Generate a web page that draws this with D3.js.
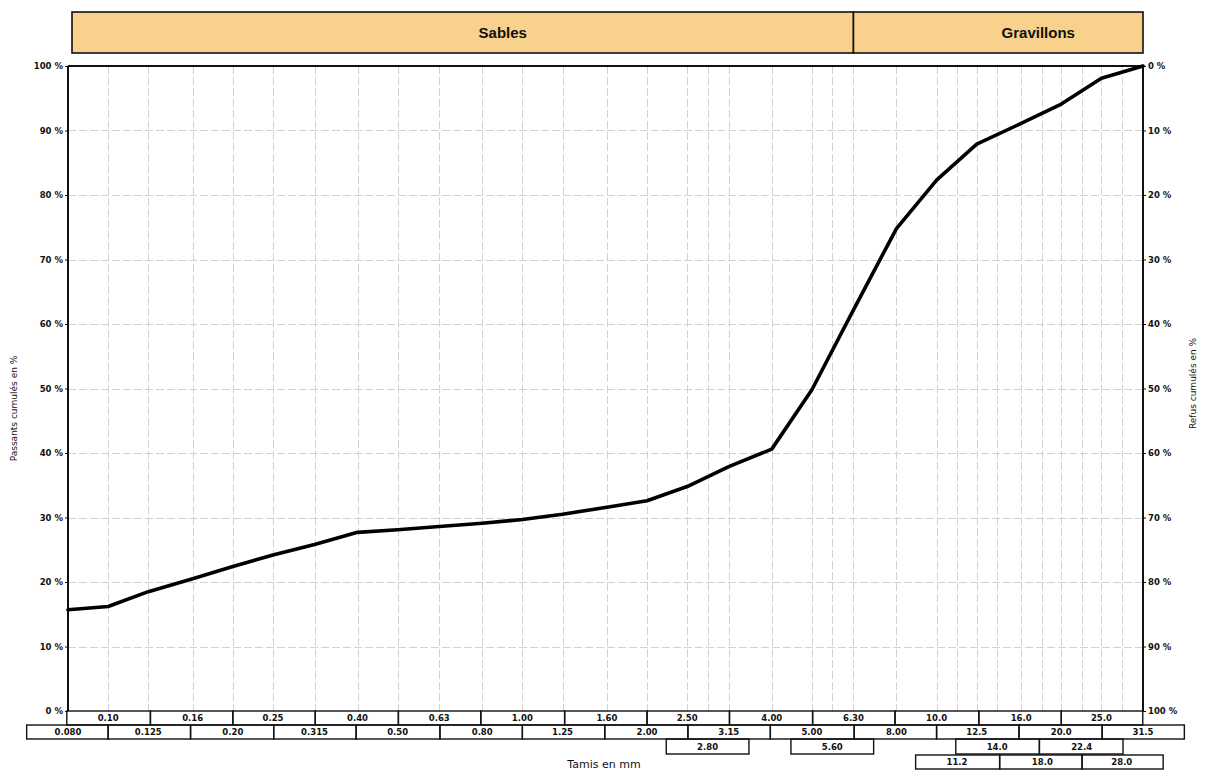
<!DOCTYPE html>
<html>
<head>
<meta charset="utf-8">
<script src="https://cdn.jsdelivr.net/npm/d3@7"></script>
<style>
  html, body { margin: 0; padding: 0; background: #fff; }
  svg { display: block; }
  text { font-family: "DejaVu Sans", Verdana, sans-serif; fill: #111; }
</style>
</head>
<body>
<svg id="chart" width="1207" height="773"></svg>
<script>
// Sieve openings (mm), main AFNOR series
const mainSieves = ["0.080","0.10","0.125","0.16","0.20","0.25","0.315","0.40","0.50","0.63","0.80","1.00","1.25","1.60","2.00","2.50","3.15","4.00","5.00","6.30","8.00","10.0","12.5","16.0","20.0","25.0","31.5"];
// Intermediate sieves shown in the extra label rows
const extraSievesRow3 = ["2.80","5.60","14.0","22.4"];
const extraSievesRow4 = ["11.2","18.0","28.0"];
// Cumulative passing (%) at each main sieve
const passing = [15.7,16.2,18.5,20.5,22.4,24.2,25.8,27.7,28.1,28.6,29.1,29.7,30.5,31.6,32.6,34.8,37.9,40.6,49.8,62.2,74.8,82.3,87.9,91.1,94.1,98.1,100];
// Percentage ticks
const passTicks = [0,10,20,30,40,50,60,70,80,90,100];
const refusTicks = [0,10,20,30,40,50,60,70,80,90,100];
// Granular classes across the top
const zoneNames = ["Sables","Gravillons"];
const zoneBounds = ["0.080","6.30","31.5"];

const svg = d3.select("#chart");
const L = 68, R = 1143, T = 66, B = 711;

const x = d3.scaleLog().domain([+mainSieves[0], +mainSieves[mainSieves.length-1]]).range([L, R]);
const y = d3.scaleLinear().domain([0, 100]).range([B, T]);
const yR = d3.scaleLinear().domain([0, 100]).range([T, B]);
const hw = (R - L) / (mainSieves.length - 1);   // half-width of a label box

// grid
const grid = svg.append("g").attr("stroke", "#d2d2d2").attr("stroke-width", 1).attr("stroke-dasharray", "8,3");
const allSieves = mainSieves.concat(extraSievesRow3, extraSievesRow4).filter(s => x(+s) > L + 1 && x(+s) < R - 1);
grid.selectAll("line.v").data(allSieves).join("line")
  .attr("x1", d => Math.round(x(+d)) + 0.5).attr("x2", d => Math.round(x(+d)) + 0.5)
  .attr("y1", T).attr("y2", B);
grid.selectAll("line.h").data(passTicks.filter(d => d > 0 && d < 100)).join("line")
  .attr("x1", L).attr("x2", R)
  .attr("y1", d => Math.round(y(d)) + 0.5).attr("y2", d => Math.round(y(d)) + 0.5);

// header bands
const hdr = svg.append("g");
const hTop = 12, hBot = 53;
zoneNames.forEach((name, i) => {
  const x0 = x(+zoneBounds[i]) + (i === 0 ? 4 : 0), x1 = x(+zoneBounds[i + 1]);
  hdr.append("rect").attr("x", x0).attr("y", hTop).attr("width", x1 - x0).attr("height", hBot - hTop)
    .attr("fill", "#f8d28c").attr("stroke", "#111").attr("stroke-width", 1.6);
  hdr.append("text").attr("x", (x0 + x1) / 2 + 40).attr("y", (hTop + hBot) / 2).attr("dy", "0.36em")
    .attr("text-anchor", "middle")
    .style("font-family", "'Liberation Sans', Arial, sans-serif").style("font-weight", "bold").style("font-size", "15px")
    .text(name);
});

// frame
const frame = svg.append("g").attr("stroke", "#111").attr("fill", "none");
frame.append("line").attr("x1", L).attr("x2", R).attr("y1", T).attr("y2", T).attr("stroke-width", 1.8);
frame.append("line").attr("x1", L).attr("x2", L).attr("y1", T).attr("y2", B).attr("stroke-width", 2);
frame.append("line").attr("x1", R).attr("x2", R).attr("y1", T).attr("y2", B).attr("stroke-width", 2);

const smallFont = sel => sel.style("font-size", "8.5px").style("font-weight", "bold")
  .style("font-family", "'DejaVu Sans', Verdana, sans-serif").attr("fill", "#1a1a1a");

// left axis
const axL = svg.append("g").attr("transform", `translate(${L},0)`)
  .call(d3.axisLeft(y).tickValues(passTicks).tickFormat(d => d + " %").tickSize(3).tickPadding(2));
axL.select(".domain").remove();
axL.selectAll("text").call(smallFont);
axL.selectAll("line").attr("stroke", "#111");

// right axis
const axR = svg.append("g").attr("transform", `translate(${R},0)`)
  .call(d3.axisRight(yR).tickValues(refusTicks).tickFormat(d => d + " %").tickSize(3).tickPadding(2));
axR.select(".domain").remove();
axR.selectAll("text").call(smallFont);
axR.selectAll("line").attr("stroke", "#111");

// sieve label rows: adjacent boxes share their common edge
const rows = [
  { sieves: mainSieves.filter((d, i) => i % 2 === 1), y0: 711, y1: 725 },
  { sieves: mainSieves.filter((d, i) => i % 2 === 0), y0: 725, y1: 739 },
  { sieves: extraSievesRow3, y0: 739, y1: 754 },
  { sieves: extraSievesRow4, y0: 755, y1: 769 }
];
const lab = svg.append("g");
rows.forEach(row => {
  const c = row.sieves.map(s => x(+s));
  const boxes = row.sieves.map((s, i) => {
    const left = (i > 0 && c[i] - c[i - 1] < hw * 2.4) ? (c[i - 1] + c[i]) / 2 : c[i] - hw;
    const right = (i < c.length - 1 && c[i + 1] - c[i] < hw * 2.4) ? (c[i] + c[i + 1]) / 2 : c[i] + hw;
    return { s, cx: c[i], left, right };
  });
  const g = lab.append("g");
  g.selectAll("rect").data(boxes).join("rect")
    .attr("x", d => d.left).attr("width", d => d.right - d.left)
    .attr("y", row.y0).attr("height", row.y1 - row.y0)
    .attr("fill", "none").attr("stroke", "#111").attr("stroke-width", 1.4);
  g.selectAll("text").data(boxes).join("text")
    .attr("x", d => d.cx).attr("y", (row.y0 + row.y1) / 2).attr("dy", "0.36em")
    .attr("text-anchor", "middle").call(smallFont)
    .text(d => d.s);
});

// grading curve
const curve = mainSieves.map((s, i) => ({ s: +s, p: passing[i] }));
svg.append("path").datum(curve)
  .attr("fill", "none").attr("stroke", "#000").attr("stroke-width", 3.6)
  .attr("stroke-linejoin", "round").attr("stroke-linecap", "round")
  .attr("d", d3.line().x(d => x(d.s)).y(d => y(d.p)));

// axis titles
svg.append("text").attr("transform", `translate(17,${(T + B) / 2 + 20}) rotate(-90)`)
  .attr("text-anchor", "middle").style("font-size", "9px").text("Passants cumulés en %");
svg.append("text").attr("transform", `translate(1196,${(T + B) / 2 - 5}) rotate(-90)`)
  .attr("text-anchor", "middle").style("font-size", "9px").text("Refus cumulés en %");
svg.append("text").attr("x", 604).attr("y", 768)
  .attr("text-anchor", "middle").style("font-size", "11px").text("Tamis en mm");
</script>
</body>
</html>
